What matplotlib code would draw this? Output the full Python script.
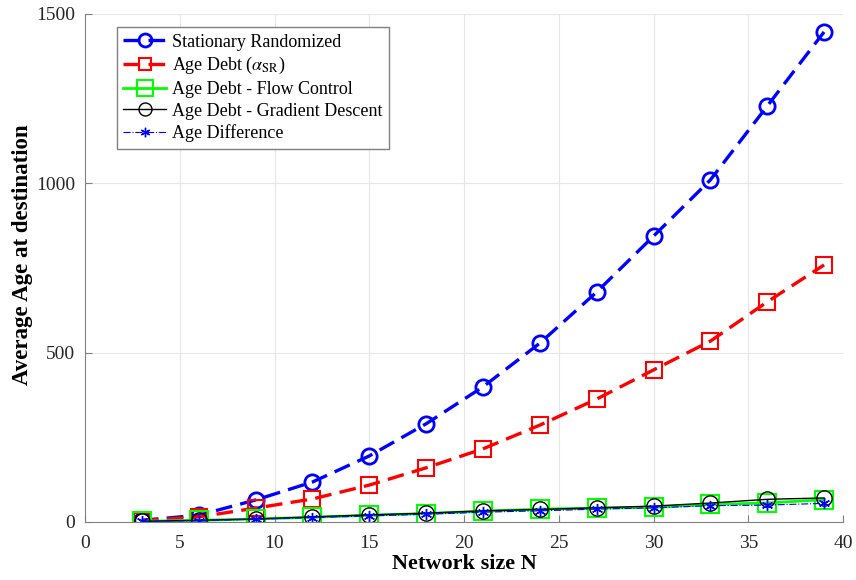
import numpy as np
import matplotlib
matplotlib.use("Agg")
import matplotlib.pyplot as plt

plt.rcParams['font.family'] = ['Liberation Serif', 'DejaVu Serif']
plt.rcParams['mathtext.fontset'] = 'stix'

# network sizes
N = [3, 6, 9, 12, 15, 18, 21, 24, 27, 30, 33, 36, 39]

# average age at destination for each policy
stationary = [5, 20, 65, 118, 195, 290, 399, 528, 679, 844, 1010, 1228, 1447]
age_debt = [4, 15, 41, 68, 109, 160, 216, 286, 363, 449, 534, 650, 759]
flow_control = [2, 5, 9, 14, 20, 25, 32, 38, 41, 43, 52, 56, 66]
gradient = [2, 5, 9, 15, 21, 26, 33, 37, 42, 47, 56, 67, 71]
age_diff = [2, 4, 8, 13, 18, 23, 29, 33, 38, 42, 48, 50, 55]

fig = plt.figure(figsize=(8.56, 5.8), dpi=100)
ax = fig.add_axes([85 / 856, 58 / 580, 758 / 856, 508 / 580])

ax.plot(N, stationary, color='#0000ff', ls='--', lw=2.4, marker='o', ms=11,
        mfc='none', mew=2.0, label='Stationary Randomized', dashes=(5, 2.5))
ax.plot(N, age_debt, color='#ff0000', ls='--', lw=2.4, marker='s', ms=11,
        mfc='none', mew=1.5, label=r'Age Debt ($\alpha_{\mathrm{SR}}$)', dashes=(5, 2.5))
ax.plot(N, flow_control, color='#00ff00', ls='-', lw=2.0, marker='s', ms=13,
        mfc='none', mew=1.5, label='Age Debt - Flow Control')
ax.plot(N, gradient, color='black', ls='-', lw=1.0, marker='o', ms=11,
        mfc='none', mew=1.0, label='Age Debt - Gradient Descent')
ax.plot(N, age_diff, color='#0000ff', ls='-.', lw=0.8, marker=(6, 2, 0), ms=8,
        mfc='#0000ff', mew=1.0, label='Age Difference')

ax.set_xlim(0, 40)
ax.set_ylim(0, 1500)
ax.set_xticks(np.arange(0, 41, 5))
ax.set_yticks([0, 500, 1000, 1500])
ax.grid(True, color='#e6e6e6', lw=0.8)
ax.set_axisbelow(True)

for s in ['top', 'right']:
    ax.spines[s].set_visible(False)
for s in ['left', 'bottom']:
    ax.spines[s].set_color('#808080')
ax.tick_params(direction='in', length=5, colors='#808080', labelcolor='#262626',
               labelsize=14)
ax.tick_params(axis='x', pad=9)
ax.tick_params(axis='y', pad=7)

ax.set_xlabel('Network size N', fontsize=16, fontweight='bold', labelpad=2)
ax.set_ylabel('Average Age at destination', fontsize=16.5, fontweight='bold')
ax.yaxis.set_label_coords(-0.068, 0.526)

leg = ax.legend(loc='upper left', bbox_to_anchor=(0.042, 0.974), fontsize=13,
                frameon=True, fancybox=False, edgecolor='#808080', framealpha=1,
                handlelength=2.4, labelspacing=0.26, borderpad=0.35, handletextpad=0.3,
                borderaxespad=0, markerscale=0.85)
leg.get_frame().set_linewidth(1.0)

fig.savefig('out.png', dpi=100)
